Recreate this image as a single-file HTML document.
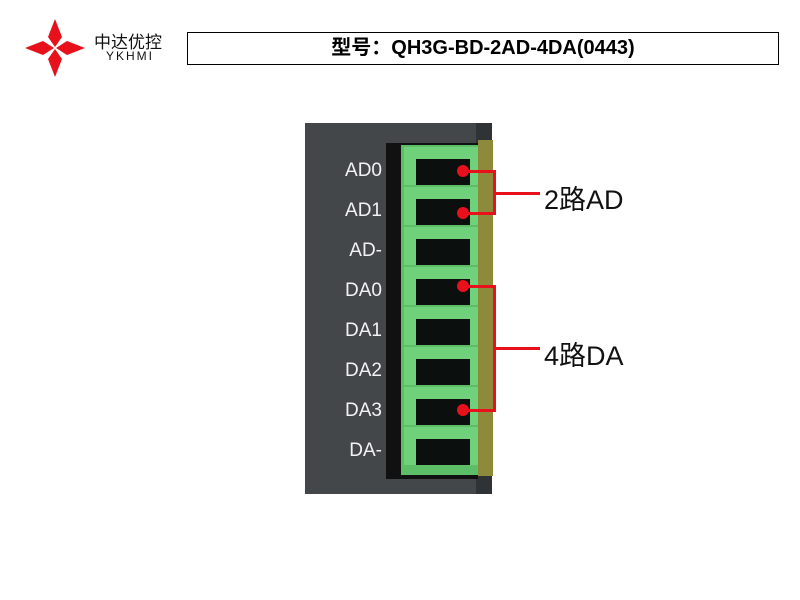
<!DOCTYPE html>
<html><head><style>
body{margin:0;width:800px;height:600px;background:#fff;position:relative;overflow:hidden;font-family:"Liberation Sans","Noto Sans CJK SC",sans-serif}
.a{position:absolute}
.lbl{position:absolute;left:326px;width:56px;text-align:right;color:#f2f2f2;font-size:19px}
.slot{position:absolute;left:404px;width:74px;height:38px;background:#6fd17a}
.hole{position:absolute;left:416px;width:54px;height:26px;background:#0b0f0d}
.dot{position:absolute;left:457px;width:12px;height:12px;border-radius:50%;background:#e8101a}
.r{position:absolute;background:#e8101a}
</style></head><body>
<svg class="a" style="left:24px;top:18px" width="62" height="60" viewBox="0 0 62 60">
<polygon fill="#e8101a" points="31,1 38,19 31,29 24,19"/>
<polygon fill="#e8101a" points="31,59 38,41 31,31 24,41"/>
<polygon fill="#e8101a" points="1,30 19,23 30,30 19,37"/>
<polygon fill="#e8101a" points="61,30 43,23 32,30 43,37"/>
</svg>
<div class="a" style="left:94px;top:28px;font-size:17px;color:#111">中达优控</div>
<div class="a" style="left:106px;top:49px;font-size:12px;letter-spacing:2px;color:#111">YKHMI</div>
<div class="a" style="left:187px;top:32px;width:590px;height:31px;border:1px solid #000;text-align:center;font-weight:bold;font-size:20px;line-height:31px">型号：QH3G-BD-2AD-4DA(0443)</div>
<div class="a" style="left:305px;top:123px;width:185px;height:371px;background:#43474a"></div>
<div class="a" style="left:476px;top:123px;width:16px;height:371px;background:#2f3335"></div>
<div class="a" style="left:478px;top:140px;width:15px;height:336px;background:#8e8a3c"></div>
<div class="a" style="left:386px;top:143px;width:92px;height:336px;background:#111"></div>
<div class="a" style="left:401px;top:145px;width:77px;height:330px;background:#5cbf68"></div>
<div class="slot" style="top:147px"></div><div class="hole" style="top:159px"></div>
<div class="slot" style="top:187px"></div><div class="hole" style="top:199px"></div>
<div class="slot" style="top:227px"></div><div class="hole" style="top:239px"></div>
<div class="slot" style="top:267px"></div><div class="hole" style="top:279px"></div>
<div class="slot" style="top:307px"></div><div class="hole" style="top:319px"></div>
<div class="slot" style="top:347px"></div><div class="hole" style="top:359px"></div>
<div class="slot" style="top:387px"></div><div class="hole" style="top:399px"></div>
<div class="slot" style="top:427px"></div><div class="hole" style="top:439px"></div>
<div class="lbl" style="top:160px">AD0</div>
<div class="lbl" style="top:200px">AD1</div>
<div class="lbl" style="top:240px">AD-</div>
<div class="lbl" style="top:280px">DA0</div>
<div class="lbl" style="top:320px">DA1</div>
<div class="lbl" style="top:360px">DA2</div>
<div class="lbl" style="top:400px">DA3</div>
<div class="lbl" style="top:440px">DA-</div>
<div class="dot" style="top:165px"></div>
<div class="dot" style="top:207px"></div>
<div class="dot" style="top:280px"></div>
<div class="dot" style="top:404px"></div>
<div class="r" style="left:463px;top:170px;width:33px;height:3px"></div>
<div class="r" style="left:463px;top:212px;width:33px;height:3px"></div>
<div class="r" style="left:493px;top:170px;width:3px;height:45px"></div>
<div class="r" style="left:493px;top:192px;width:47px;height:3px"></div>
<div class="r" style="left:463px;top:285px;width:33px;height:3px"></div>
<div class="r" style="left:463px;top:409px;width:33px;height:3px"></div>
<div class="r" style="left:493px;top:285px;width:3px;height:127px"></div>
<div class="r" style="left:493px;top:347px;width:47px;height:3px"></div>
<div class="a" style="left:544px;top:178px;font-size:27px;color:#111">2路AD</div>
<div class="a" style="left:544px;top:334px;font-size:27px;color:#111">4路DA</div>
</body></html>
